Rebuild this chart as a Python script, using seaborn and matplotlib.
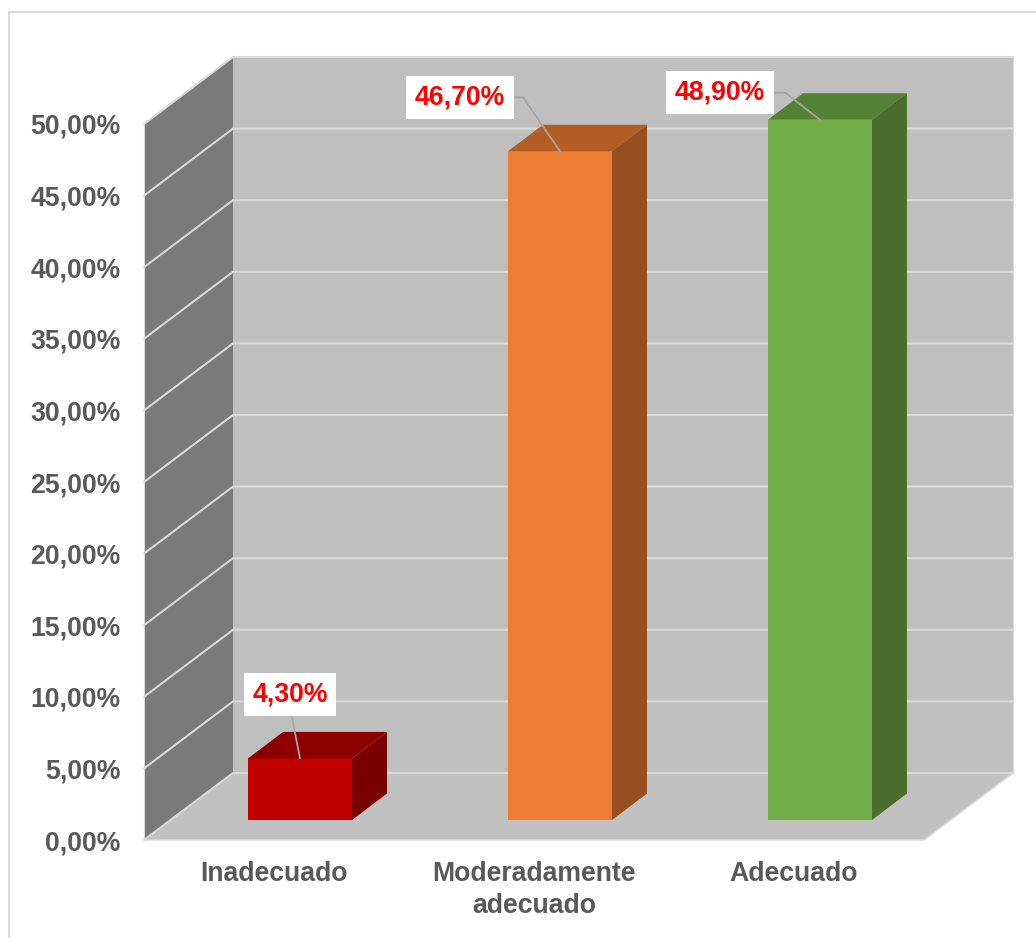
import matplotlib
matplotlib.use("Agg")
import matplotlib.pyplot as plt
from matplotlib.lines import Line2D
from matplotlib.patches import Polygon
import pandas as pd
import seaborn as sns

categories = ["Inadecuado", "Moderadamente\nadecuado", "Adecuado"]
values = [4.3, 46.7, 48.9]
value_labels = ["4,30%", "46,70%", "48,90%"]
y_ticks = [0, 5, 10, 15, 20, 25, 30, 35, 40, 45, 50]
y_tick_labels = ["0,00%", "5,00%", "10,00%", "15,00%", "20,00%", "25,00%",
                 "30,00%", "35,00%", "40,00%", "45,00%", "50,00%"]
front_colors = ["#C00000", "#ED7D31", "#70AD47"]
top_colors = ["#8E0000", "#B25E25", "#548235"]
side_colors = ["#7A0000", "#964F1F", "#4A6E2C"]

W, H = 1036, 938
TEXT = "#595959"
GRID = "#D9D9D9"

sns.set_theme(style="white")
plt.rcParams["font.family"] = ["Liberation Sans", "DejaVu Sans"]
plt.rcParams["font.weight"] = "bold"

fig = plt.figure(figsize=(W / 100, H / 100), dpi=100, facecolor="white")

# outer frame of the chart area
for xs, ys in (([8.5, 8.5], [H, 12.5]), ([8.5, W], [12.5, 12.5])):
    fig.add_artist(Line2D([x / W for x in xs], [1 - y / H for y in ys],
                          color=GRID, lw=1.5, transform=fig.transFigure))

# front plane of the box: carries the axes scales and labels
ax = fig.add_axes([144 / W, 1 - 840 / H, 780 / W, 716 / H])
ax.set_facecolor("none")
ax.set_xlim(-0.5, 2.5)
ax.set_ylim(0, 50)
for s in ax.spines.values():
    s.set_visible(False)
ax.set_xticks(range(len(categories)), categories, fontsize=19.2, color=TEXT,
              linespacing=1.32)
ax.set_yticks(y_ticks, y_tick_labels, fontsize=19.2, color=TEXT)
ax.tick_params(axis="x", length=0, pad=15)
ax.tick_params(axis="y", length=0, pad=17)
ax.grid(False)

# box depth in data units
ddx, ddy = 89 / 260, 67 / 14.32
x0, x1 = ax.get_xlim()
ymax = y_ticks[-1]
ax.add_patch(Polygon([(x0, 0), (x0 + ddx, ddy), (x0 + ddx, ymax + ddy), (x0, ymax)],
                     fc="#7A7A7A", ec="none", clip_on=False, zorder=1))
ax.add_patch(Polygon([(x0 + ddx, ddy), (x1 + ddx, ddy), (x1 + ddx, ymax + ddy), (x0 + ddx, ymax + ddy)],
                     fc="#BFBFBF", ec="none", clip_on=False, zorder=1))
ax.add_patch(Polygon([(x0, 0), (x1, 0), (x1 + ddx, ddy), (x0 + ddx, ddy)],
                     fc="#C1C1C1", ec="none", clip_on=False, zorder=1))
for t in y_ticks:
    ax.plot([x0, x0 + ddx, x1 + ddx], [t, t + ddy, t + ddy], color=GRID, lw=1.5,
            clip_on=False, zorder=2, solid_joinstyle="miter")
ax.plot([x0, x1, x1 + ddx], [0, 0, ddy], color=GRID, lw=1, clip_on=False, zorder=2)
ax.plot([x1 + ddx, x1 + ddx], [ddy, ymax + ddy], color=GRID, lw=1, clip_on=False, zorder=2)
ax.plot([x0, x0], [0, ymax], color=GRID, lw=0.8, clip_on=False, zorder=2)

# bar plane: same scale, sits inside the depth of the box
bx = fig.add_axes([170 / W, 1 - 820 / H, 780 / W, 716 / H])
bx.patch.set_alpha(0)
df = pd.DataFrame({"categoria": categories, "valor": values})
sns.barplot(data=df, x="categoria", y="valor", hue="categoria", palette=front_colors,
            saturation=1, width=0.4, dodge=False, legend=False, ax=bx, zorder=5,
            linewidth=0, edgecolor="none")
bx.set_xlim(-0.5, 2.5)
bx.set_ylim(0, 50)
bx.axis("off")

bdx, bdy = 35 / 260, 26.5 / 14.32
bars = sorted(bx.patches, key=lambda p: p.get_x())
for bar, top, side in zip(bars, top_colors, side_colors):
    l, r, v = bar.get_x(), bar.get_x() + bar.get_width(), bar.get_height()
    bx.add_patch(Polygon([(l, v), (r, v), (r + bdx, v + bdy), (l + bdx, v + bdy)],
                         fc=top, ec="none", clip_on=False, zorder=5))
    bx.add_patch(Polygon([(r, 0), (r + bdx, bdy), (r + bdx, v + bdy), (r, v)],
                         fc=side, ec="none", clip_on=False, zorder=5))

# data labels with leader lines
offsets = [(-10, 64), (-100, 54), (-100, 27)]
connectors = ["arc3,rad=0",
              "angle,angleA=0,angleB=-55.6,rad=0",
              "angle,angleA=0,angleB=-37.9,rad=0"]
relpos = [(0.5, 0), (1, 0.5), (1, 0.5)]
for i, (v, lab) in enumerate(zip(values, value_labels)):
    bx.annotate(lab, xy=(i, v), xytext=offsets[i], textcoords="offset pixels",
                ha="center", va="center", fontsize=19.2, fontweight="bold",
                color="#FF0000", zorder=8,
                bbox=dict(boxstyle="square,pad=0.32", fc="white", ec="none"),
                arrowprops=dict(arrowstyle="-", color="#A6A6A6", lw=1.3,
                                connectionstyle=connectors[i], relpos=relpos[i],
                                shrinkA=0, shrinkB=0))

fig.savefig("out.png", dpi=100)
